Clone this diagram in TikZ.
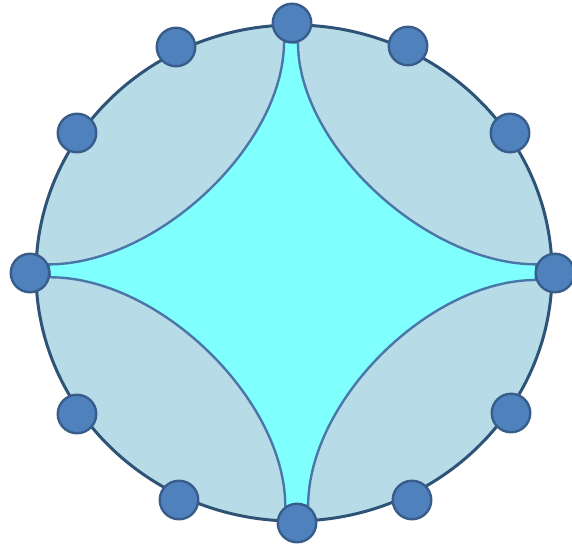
\documentclass[tikz,border=0pt]{standalone}
\usepackage{tikz}
\usetikzlibrary{backgrounds}
\definecolor{C_DISC}{HTML}{B7DCE7}
\definecolor{C_CORE}{HTML}{80FFFF}
\definecolor{C_DOT} {HTML}{4F81BD}
\definecolor{C_DOTB}{HTML}{385D8A}
\definecolor{C_RIM} {HTML}{2F5376}
\definecolor{C_ARC} {HTML}{4A76A8}
\tikzset{
  %% -- point sitting on the rim --
  rim/dot/.style={
    circle, draw=C_DOTB, fill=C_DOT, line width=2.4pt,
    minimum size=38.5pt, inner sep=0pt
  },
  %% -- the outer disc --
  rim/disc/.style={draw=C_RIM, fill=C_DISC, line width=3pt},
  %% -- the cusped region in the middle --
  rim/core/.style={draw=C_ARC, fill=C_CORE, line width=2.4pt},
}
\begin{document}
\begin{tikzpicture}[x=1pt, y=-1pt]
\useasboundingbox (0,0) rectangle (572,548);

%% Cusp points
\node[rim/dot] (top)    at (292, 23)  {};
\node[rim/dot] (right)  at (555, 273) {};
\node[rim/dot] (bottom) at (297, 523) {};
\node[rim/dot] (left)   at (30, 273)  {};

%% Other points on the rim
\foreach \n/\x/\y in {a/176/47, b/408/46, c/510/133, d/511/413,
                      e/412/500, f/179/500, g/77/414, h/77/133}
  \node[rim/dot] (\n) at (\x,\y) {};

%% Disc and region, behind the points
\begin{scope}[on background layer]
  \draw[rim/disc] (294,273) ellipse [x radius=258, y radius=248];
  \draw[rim/core]
    (top.287)    .. controls +(0,103)  and +(-110,0) .. (right.155)
    -- (right.200) .. controls +(-106,0) and +(0,-105) .. (bottom.57)
    -- (bottom.125) .. controls +(0,-106) and +(110,0) .. (left.-12)
    -- (left.25)  .. controls +(109,0)  and +(0,103)  .. (top.247)
    -- cycle;
\end{scope}
\end{tikzpicture}
\end{document}
